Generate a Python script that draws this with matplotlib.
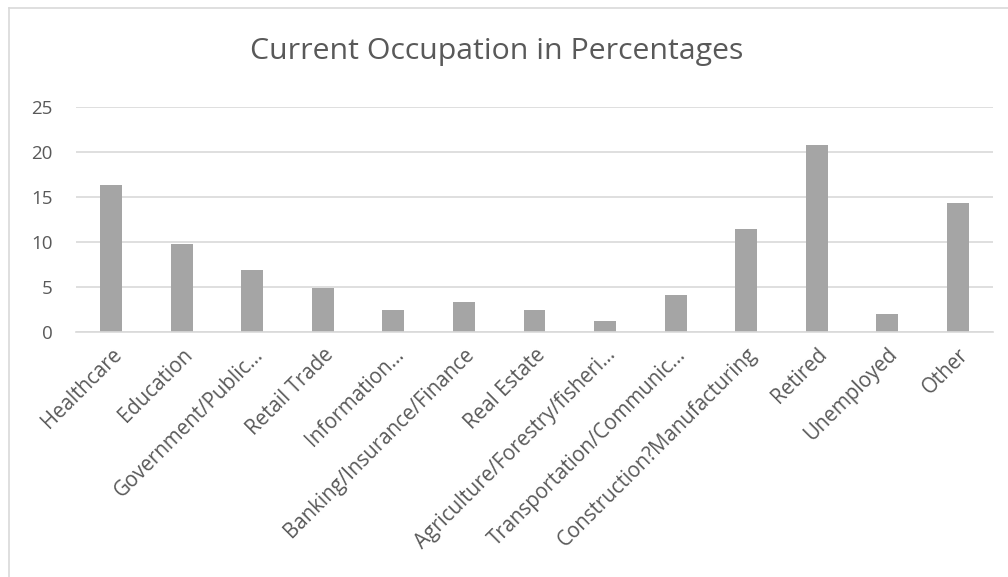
import numpy as np
import matplotlib.pyplot as plt
from matplotlib.lines import Line2D

categories = ["Healthcare", "Education", "Government/Public\u2026", "Retail Trade",
              "Information\u2026", "Banking/Insurance/Finance", "Real Estate",
              "Agriculture/Forestry/fisheri\u2026", "Transportation/Communic\u2026",
              "Construction?Manufacturing", "Retired", "Unemployed", "Other"]
percentages = [16.3, 9.8, 6.9, 4.9, 2.4, 3.3, 2.4, 1.2, 4.1, 11.4, 20.8, 2.0, 14.3]
yticks = [0, 5, 10, 15, 20, 25]

plt.rcParams['font.family'] = ['Open Sans', 'DejaVu Sans']
txt = '#595959'

fig = plt.figure(figsize=(10.08, 5.77), dpi=100)
ax = fig.add_axes([76/1008, 1 - 331.7/577, (993-76)/1008, (331.7-106.7)/577])

x = np.arange(len(categories))
ax.bar(x, percentages, width=0.31, color='#A5A5A5', zorder=2)

ax.set_xlim(-0.5, len(categories) - 0.5)
ax.set_ylim(0, 25)
ax.set_yticks(yticks)
ax.yaxis.grid(True, color='#D9D9D9', linewidth=1.2, zorder=0)
ax.set_xticks(x)
ax.set_xticklabels(categories, rotation=45, ha='right', va='top',
                   rotation_mode='anchor', fontsize=14.8, color=txt)
ax.tick_params(axis='y', labelsize=13.5, labelcolor=txt, length=0, pad=17)
ax.tick_params(axis='x', length=0, pad=9)
for s in ['top', 'right', 'left']:
    ax.spines[s].set_visible(False)
ax.spines['bottom'].set_color('#D9D9D9')
ax.spines['bottom'].set_linewidth(1.2)

fig.text(497/1008, 1 - 52/577, "Current Occupation in Percentages",
         ha='center', va='center', fontsize=21.8, color=txt)

# chart area border (only top and left edges are visible in the crop)
fig.add_artist(Line2D([9/1008, 1], [1 - 8/577, 1 - 8/577], transform=fig.transFigure,
                      color='#D9D9D9', linewidth=1.2))
fig.add_artist(Line2D([9/1008, 9/1008], [0, 1 - 8/577], transform=fig.transFigure,
                      color='#D9D9D9', linewidth=1.2))

fig.savefig('out.png', dpi=100)
